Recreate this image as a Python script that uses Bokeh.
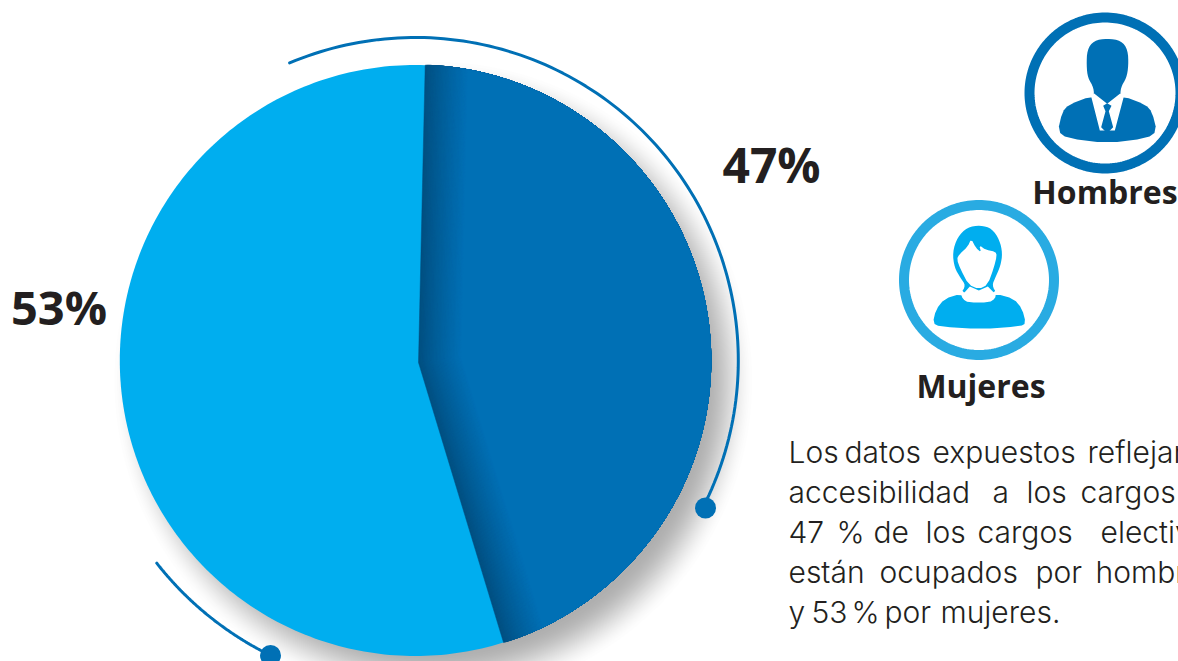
import math
from bokeh.core.properties import value
from bokeh.embed import file_html
from bokeh.plotting import figure
from bokeh.resources import INLINE

# ---- data ----
categories = ["Hombres", "Mujeres"]
share_labels = ["47%", "53%"]
# the slices as actually drawn in the reference (they are not quite 47/53)
drawn_shares = [44.95, 55.05]
first_slice_start_deg = 1.29

paragraph_words = [
    ["Los", "datos", "expuestos", "reflejan"],
    ["accesibilidad", "a", "los", "cargos"],
    ["47", "%", "de", "los", "cargos", "electivos"],
    ["están", "ocupados", "por", "hombres"],
    ["y", "53", "%", "por", "mujeres."],
]
paragraph_x = [
    [788, 844, 932, 1087],
    [788, 992, 1026, 1080],
    [788, 836, 873, 925, 977, 1100],
    [788, 879, 1035, 1095],
    [788, 811, 851, 884, 940],
]
paragraph_ys = [451, 491, 531, 571, 611]

# ---- style ----
DARK, LIGHT, RING2, INK = "#0070b5", "#00aeef", "#29abe2", "#231f20"
CX, CY, R = 414.8, 360.0, 295.5
APEX = (418.0, 362.0)
W, H = 1178, 661
BOLD = value("Open Sans")

p = figure(width=W, height=H, x_range=(0, W), y_range=(H, 0),
           output_backend="svg", toolbar_location=None, min_border=0,
           background_fill_color="white", border_fill_color="white", outline_line_color=None)
p.axis.visible = False
p.grid.visible = False


def polar(cx, cy, r, deg):
    a = math.radians(deg)
    return cx + r * math.sin(a), cy - r * math.cos(a)


def circle_pts(cx, cy, r, n=180):
    pts = [polar(cx, cy, r, 360 * i / n) for i in range(n)]
    return [q[0] for q in pts], [q[1] for q in pts]


def ray_hit(ax, ay, deg):
    dx, dy = math.sin(math.radians(deg)), -math.cos(math.radians(deg))
    fx, fy = ax - CX, ay - CY
    b = fx * dx + fy * dy
    c = fx * fx + fy * fy - R * R
    t = -b + math.sqrt(b * b - c)
    return ax + t * dx, ay + t * dy


def slice_poly(ax, ay, d0, d1, n=90):
    h0, h1 = ray_hit(ax, ay, d0), ray_hit(ax, ay, d1)
    a0 = math.degrees(math.atan2(h0[0] - CX, -(h0[1] - CY)))
    a1 = math.degrees(math.atan2(h1[0] - CX, -(h1[1] - CY)))
    while a1 < a0:
        a1 += 360
    pts = [(ax, ay)] + [polar(CX, CY, R, a0 + (a1 - a0) * i / n) for i in range(n + 1)]
    return [q[0] for q in pts], [q[1] for q in pts]


def mix(c0, c1, t):
    return "#" + "".join(f"{round(a + (b - a) * t):02x}" for a, b in zip(c0, c1))


def chaikin(pts, k=2):
    for _ in range(k):
        out = []
        for i, a in enumerate(pts):
            b = pts[(i + 1) % len(pts)]
            out += [(.75 * a[0] + .25 * b[0], .75 * a[1] + .25 * b[1]),
                    (.25 * a[0] + .75 * b[0], .25 * a[1] + .75 * b[1])]
        pts = out
    return pts


# ---- soft drop shadow: smooth radial falloff from stacked faint discs ----
N = 40
for i in range(N):
    t = (i + 0.5) / N
    x = 0.5 - math.sin(math.asin(1 - 2 * t) / 3)      # inverse smoothstep
    rad = R + 27 - 52 * x
    xs, ys = circle_pts(CX + 18, CY + 20, rad)
    p.patch(xs, ys, fill_color="black", fill_alpha=0.0092, line_color=None)

# ---- pie ----
sweep = [s / sum(drawn_shares) * 360 for s in drawn_shares]
d0 = first_slice_start_deg
d1 = d0 + sweep[0]
xs, ys = circle_pts(CX, CY, R, 360)
p.patch(xs, ys, fill_color=LIGHT, line_color=None)

# shaded inner edge of the dark slice: successively inset, lighter copies
bis = math.radians((d0 + d1) / 2)
half = math.radians(sweep[0] / 2)
STEPS = 36
for i in range(STEPS + 1):
    t = i / STEPS
    inset = 42 * t
    ax = APEX[0] + math.sin(bis) * inset / math.sin(half)
    ay = APEX[1] - math.cos(bis) * inset / math.sin(half)
    col = mix((0x00, 0x4f, 0x80), (0x00, 0x70, 0xb5), t ** 0.85)
    xs, ys = slice_poly(ax, ay, d0, d1)
    p.patch(xs, ys, fill_color=col, line_color=col, line_width=0.5)

# ---- decorative arcs and dots ----
for r, a0, a1, dot in [(323, -22.9, 116.9, (705, 507.5)), (328.5, 231.9, 206.2, (270, 655))]:
    pts = [polar(CX, CY, r, a0 + (a1 - a0) * i / 120) for i in range(121)]
    p.line([q[0] for q in pts], [q[1] for q in pts], line_color=DARK, line_width=3, line_cap="round")
    p.scatter([dot[0]], [dot[1]], size=21, marker="circle", fill_color=DARK, line_color=None)

# ---- share labels ----
p.text([771], [164], text=[share_labels[0]], text_font=BOLD, text_font_style="bold",
       text_font_size="48px", text_color=INK, text_align="center", text_baseline="alphabetic")
p.text([58.5], [306], text=[share_labels[1]], text_font=BOLD, text_font_style="bold",
       text_font_size="47px", text_color=INK, text_align="center", text_baseline="alphabetic")

# ---- man icon ----
xs, ys = circle_pts(1104.5, 92.5, 75.5)
p.patch(xs, ys, fill_color="white", line_color=DARK, line_width=10)


def man(z):
    return [880 + q[0] / 3 for q in z], [q[1] / 3 for q in z]


head = chaikin([(680, 114), (640, 120), (620, 148), (618, 195), (622, 232), (640, 262), (640, 295), (720, 295),
                (720, 262), (738, 232), (744, 195), (742, 148), (722, 120)])
p.patch(*man(head), fill_color=DARK, line_color=None)
body = chaikin([(632, 287), (565, 312), (545, 335), (532, 392), (560, 413), (680, 428), (800, 413), (829, 392),
                (815, 335), (795, 312), (728, 287)], 1)
p.patch(*man(body), fill_color=DARK, line_color=None)
p.patch(*man([(632, 288), (641, 279), (680, 310), (719, 279), (730, 288), (703, 390), (658, 390)]),
        fill_color="white", line_color=None)
p.patch(*man([(668, 316), (680, 308), (693, 316), (685, 332), (698, 380), (680, 398), (662, 380), (675, 332)]),
        fill_color=DARK, line_color=None)
p.text([1104.5], [191], text=[categories[0]], text_font=BOLD, text_font_style="bold",
       text_font_size="32px", text_color=INK, text_align="center", text_baseline="alphabetic")

# ---- woman icon ----
xs, ys = circle_pts(978.5, 279.5, 75)
p.patch(xs, ys, fill_color="white", line_color=RING2, line_width=10)


def wom(z):
    return [880 + q[0] / 3 for q in z], [190 + q[1] / 3 for q in z]


hair = chaikin([(300, 104), (260, 110), (231, 140), (216, 185), (222, 232), (240, 262), (256, 285), (240, 310),
                (350, 310), (334, 285), (346, 258), (360, 226), (366, 188), (357, 148), (334, 114)])
p.patch(*wom(hair), fill_color=LIGHT, line_color=None)
face = chaikin([(272, 145), (262, 168), (236, 192), (229, 206), (240, 236), (264, 282), (295, 296), (322, 282),
                (340, 232), (349, 196), (345, 184), (316, 178), (296, 164), (302, 186), (286, 172)], 1)
p.patch(*wom(face), fill_color="white", line_color=None)
neck = [(268, 288), (250, 308), (250, 328), (270, 338), (322, 338), (342, 326), (342, 308), (322, 288), (295, 300)]
p.patch(*wom(neck), fill_color="white", line_color=None)
torso = chaikin([(157, 398), (166, 358), (192, 325), (241, 310), (247, 326), (264, 336), (326, 336), (344, 324),
                 (346, 310), (400, 325), (425, 355), (436, 398), (420, 407), (300, 416), (178, 408)], 1)
p.patch(*wom(torso), fill_color=LIGHT, line_color=None)
p.text([980.5], [385], text=[categories[1]], text_font=BOLD, text_font_style="bold",
       text_font_size="32px", text_color=INK, text_align="center", text_baseline="alphabetic")

# ---- justified paragraph, word by word ----
tx, ty, tt = [], [], []
for words, xpos, ypos in zip(paragraph_words, paragraph_x, paragraph_ys):
    for w, x in zip(words, xpos):
        tx.append(x)
        ty.append(ypos)
        tt.append(w)
p.text(tx, ty, text=tt, text_font=value("Inter Light"), text_font_size="30px", text_color=INK,
       text_align="left", text_baseline="alphabetic")

open("out.html", "w").write(file_html(p, INLINE))
